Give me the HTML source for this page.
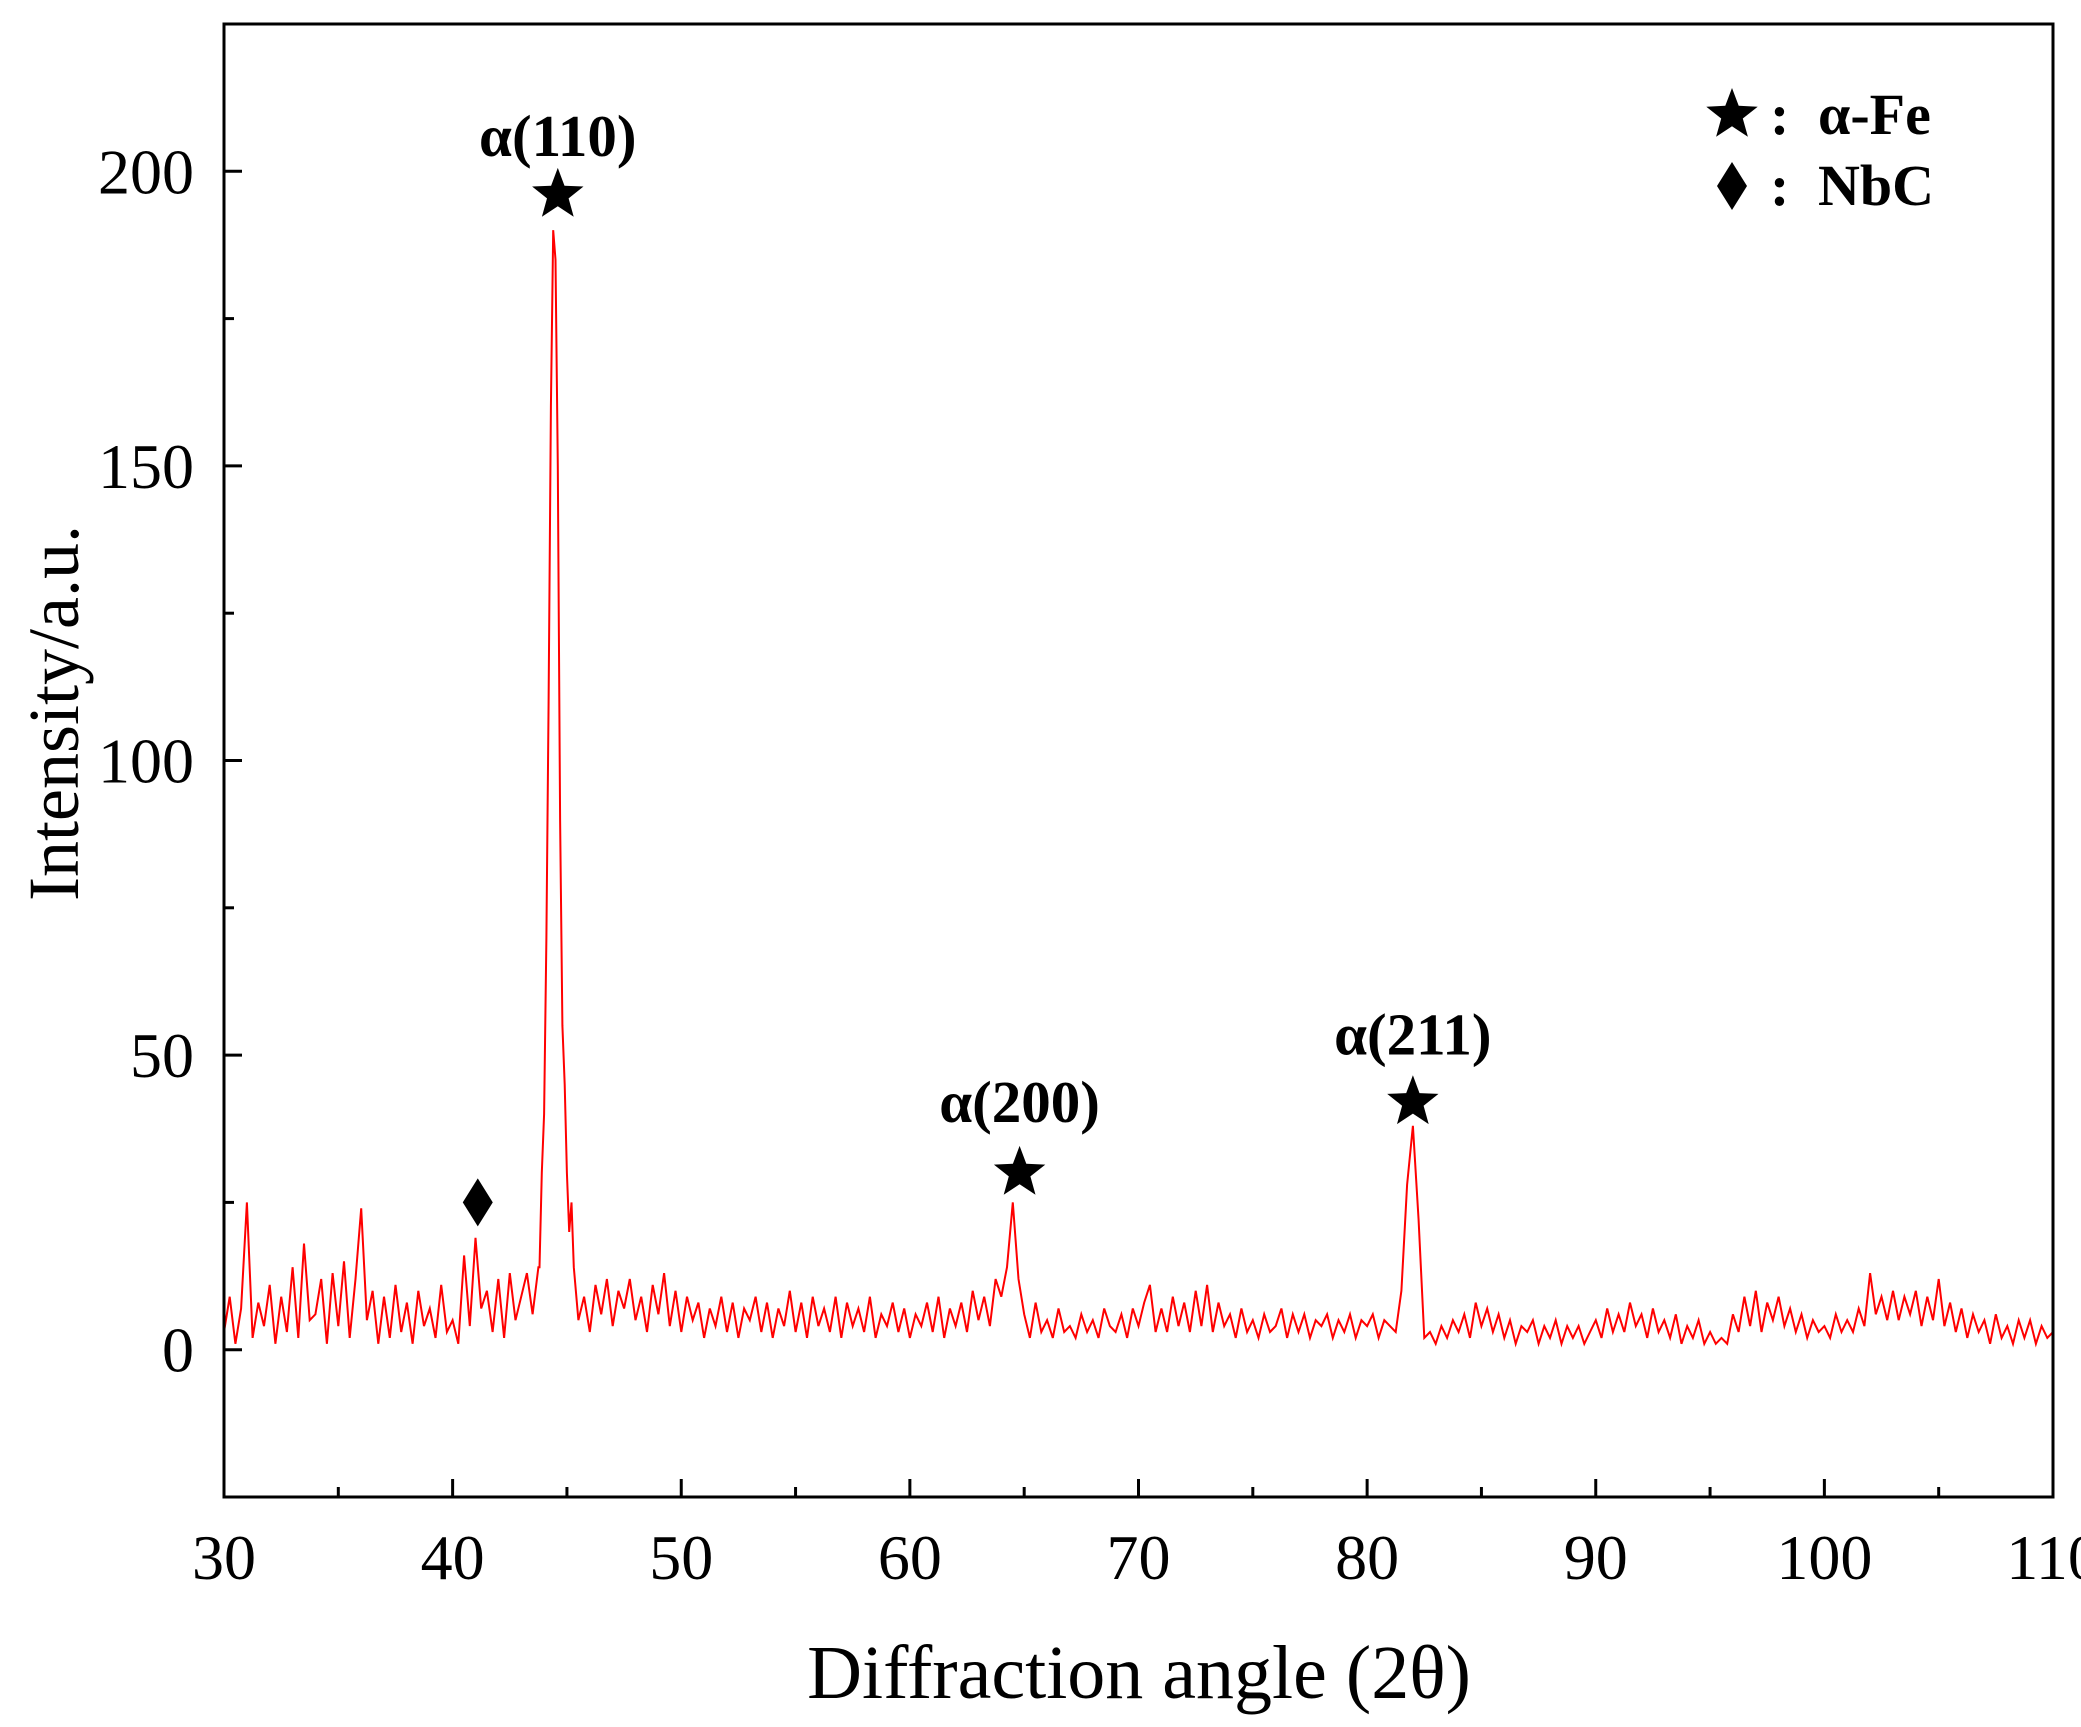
<!DOCTYPE html>
<html><head><meta charset="utf-8">
<style>
html,body{margin:0;padding:0;background:#fff;}
svg{display:block;font-family:"Liberation Serif","DejaVu Serif",serif;}
</style></head>
<body>
<svg id="chart" width="2081" height="1727" viewBox="0 0 2081 1727" xmlns="http://www.w3.org/2000/svg">
<g id="plot"></g>
</svg>
<script>
// ---- data ----
const xStart = 30;
const xStep = 0.25;
const noiseY = [
3,9,1,7, 25,2,8,4, 11,1,9,3, 14,2,18,5, 6,12,1,13, 4,15,2,12, 24,5,10,1, 9,2,11,3, 8,1,10,4, 7,2,11,3,
5,1,16,4, 19,7,10,3, 12,2,13,5, 9,13,6,14, 35,120,190,60, 24,12,5,9, 3,11,6,12, 4,10,7,12, 5,9,3,11,
6,13,4,10, 3,9,5,8, 2,7,4,9, 3,8,2,7, 5,9,3,8, 2,7,4,10, 3,8,2,9, 4,7,3,9, 2,8,4,7, 3,9,2,6,
4,8,3,7, 2,6,4,8, 3,9,2,7, 4,8,3,10, 5,9,4,12, 9,14,25,12, 6,2,8,3, 5,2,7,3, 4,2,6,3, 5,2,7,4,
3,6,2,7, 4,8,11,3, 7,3,9,4, 8,3,10,4, 11,3,8,4, 6,2,7,3, 5,2,6,3, 4,7,2,6, 3,6,2,5, 4,6,2,5,
3,6,2,5, 4,6,2,5, 4,3,10,28, 38,22,2,3, 1,4,2,5, 3,6,2,8, 4,7,3,6, 2,5,1,4, 3,5,1,4, 2,5,1,4,
2,4,1,3, 5,2,7,3, 6,3,8,4, 6,2,7,3, 5,2,6,1, 4,2,5,1, 3,1,2,1, 6,3,9,4, 10,3,8,5, 9,4,7,3,
6,2,5,3, 4,2,6,3, 5,3,7,4, 13,6,9,5, 10,5,9,6, 10,4,9,5, 12,4,8,3, 7,2,6,3, 5,1,6,2, 4,1,5,2,
5,1,4,2, 3
];
const peakX = [43.8,43.9,44.0,44.1,44.2,44.3,44.4,44.5,44.6,44.7,44.8,44.9,45.0,45.1,45.2,45.3];
const peakY = [14,30,40,70,110,160,190,185,150,90,55,45,30,20,25,14];
const xTicks = [30,40,50,60,70,80,90,100,110];
const yTicks = [0,50,100,150,200];
const annLabels = ["α(110)","α(200)","α(211)"];
const annX = [44.6,64.8,82.0];
const annStarY = [196,30,42];
const annLabelY = [206,42,53.5];
const nbcX = [41.1];
const nbcY = [25];

// ---- axes ----
const L=224,R=2053,T=24,B=1497;
const xMin=30,xMax=110,yMin=-25,yMax=225;
const sx=v=>L+(v-xMin)/(xMax-xMin)*(R-L);
const sy=v=>B-(v-yMin)/(yMax-yMin)*(B-T);
const NS="http://www.w3.org/2000/svg";
const g=document.getElementById('plot');
function mk(tag,attrs,parent){const e=document.createElementNS(NS,tag);for(const k in attrs)e.setAttribute(k,attrs[k]);(parent||g).appendChild(e);return e;}

// series
let pts=[];
for(let i=0;i<noiseY.length;i++){const x=xStart+i*xStep;if(x>=peakX[0]-0.01&&x<=peakX[peakX.length-1]+0.01)continue;pts.push([x,noiseY[i]]);}
for(let i=0;i<peakX.length;i++)pts.push([peakX[i],peakY[i]]);
pts.sort((a,b)=>a[0]-b[0]);
const line=mk('polyline',{points:pts.map(p=>sx(p[0]).toFixed(1)+','+sy(p[1]).toFixed(1)).join(' '),fill:'none',stroke:'#ff0000','stroke-width':2});



// frame
const fr=mk('rect',{x:L,y:T,width:R-L,height:B-T,fill:'none',stroke:'#000','stroke-width':3});



// x ticks
for(let v=30;v<=110;v+=5){
  const major=v%10===0;
  const t=mk('line',{x1:sx(v),x2:sx(v),y1:B,y2:B-(major?18:10),stroke:'#000','stroke-width':3});
  
  
}
xTicks.forEach(v=>{
  const t=mk('text',{x:sx(v),y:1579,'font-size':64,'text-anchor':'middle',fill:'#000'});
  t.textContent=v;
  
  
});
// y ticks
for(let v=-25;v<=225;v+=25){
  if(v<yMin||v>yMax)continue;
  const major=v%50===0;
  const t=mk('line',{x1:L,x2:L+(major?18:10),y1:sy(v),y2:sy(v),stroke:'#000','stroke-width':3});
  
  
}
yTicks.forEach(v=>{
  const t=mk('text',{x:194,y:sy(v)+22,'font-size':64,'text-anchor':'end',fill:'#000'});
  t.textContent=v;
  
  
});
// axis titles
const xt=mk('text',{x:1139,y:1698,'font-size':76,'text-anchor':'middle',fill:'#000'});
xt.textContent='Diffraction angle (2θ)';


const yt=mk('text',{x:0,y:0,'font-size':72,'text-anchor':'middle',fill:'#000',transform:'translate(78,713) rotate(-90)'});
yt.textContent='Intensity/a.u.';



// markers
function star(cx,cy,r){let p=[];for(let i=0;i<10;i++){const a=-Math.PI/2+i*Math.PI/5;const rr=i%2?r*0.42:r;p.push((cx+rr*Math.cos(a)).toFixed(1)+','+(cy+rr*Math.sin(a)).toFixed(1));}return mk('polygon',{points:p.join(' '),fill:'#000'});}
function diamond(cx,cy,w,h){return mk('polygon',{points:`${cx},${cy-h} ${cx+w},${cy} ${cx},${cy+h} ${cx-w},${cy}`,fill:'#000'});}
annLabels.forEach((lab,i)=>{
  const s=star(sx(annX[i]),sy(annStarY[i]),27);
  
  
  const t=mk('text',{x:sx(annX[i]),y:sy(annLabelY[i])+20,'font-size':59,'font-weight':'bold','text-anchor':'middle',fill:'#000'});
  t.textContent=lab;
  
  
});
nbcX.forEach((x,i)=>{
  const d=diamond(sx(x),sy(nbcY[i]),15,24);
  
  
});
// legend
const ls=star(1732,115,27);


const lc1=mk('text',{x:1770,y:134,'font-size':58,'font-weight':'bold',fill:'#000'});
lc1.textContent=':';


const lt1=mk('text',{x:1818,y:134,'font-size':58,'font-weight':'bold',fill:'#000'});
lt1.textContent='α-Fe';


const ld=diamond(1732,186,15,24);


const lc2=mk('text',{x:1770,y:205,'font-size':58,'font-weight':'bold',fill:'#000'});
lc2.textContent=':';


const lt2=mk('text',{x:1818,y:205,'font-size':58,'font-weight':'bold',fill:'#000'});
lt2.textContent='NbC';


</script>
</body></html>
